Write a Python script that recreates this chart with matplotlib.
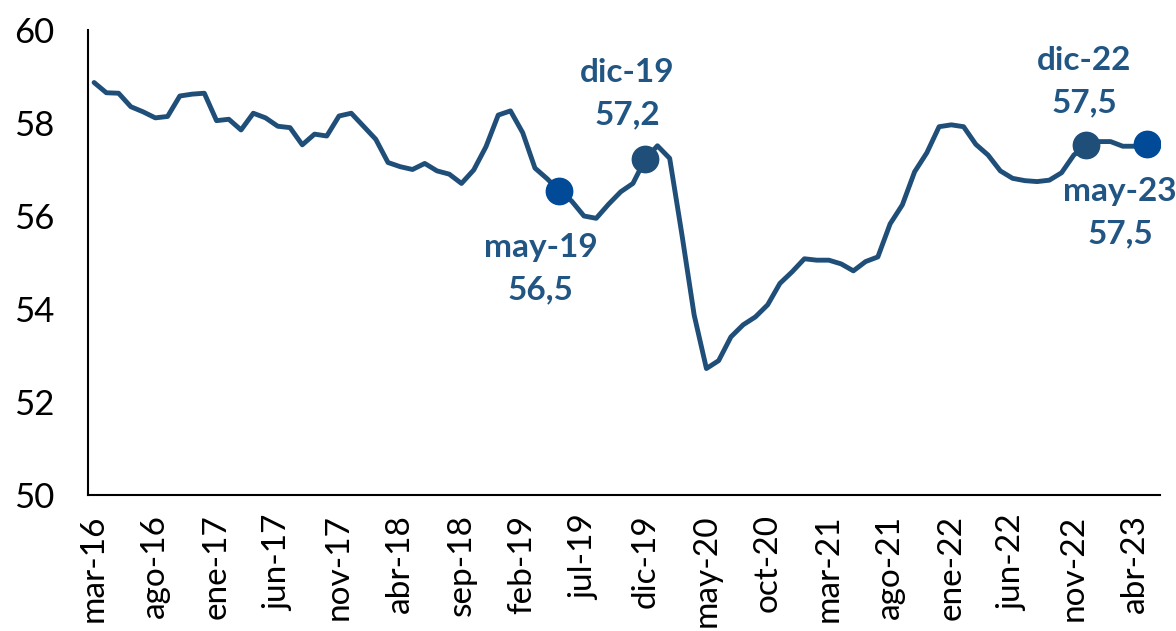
import matplotlib
matplotlib.use("Agg")
import matplotlib.pyplot as plt

plt.rcParams['font.family'] = ['Lato', 'DejaVu Sans']

month_abbr = ['ene', 'feb', 'mar', 'abr', 'may', 'jun', 'jul', 'ago', 'sep', 'oct', 'nov', 'dic']
categories = []
y, m = 2016, 2
while (y, m) <= (2023, 4):
    categories.append(f"{month_abbr[m]}-{str(y)[2:]}")
    m += 1
    if m == 12:
        m = 0
        y += 1

values = [58.87, 58.65, 58.64, 58.35, 58.24, 58.11, 58.14, 58.58, 58.62, 58.64,
          58.05, 58.08, 57.85, 58.21, 58.11, 57.93, 57.90, 57.53, 57.76, 57.72,
          58.15, 58.21, 57.93, 57.65, 57.15, 57.06, 57.00, 57.13, 56.97, 56.90,
          56.70, 56.99, 57.49, 58.17, 58.26, 57.79, 57.03, 56.80, 56.54, 56.32,
          56.00, 55.95, 56.25, 56.52, 56.70, 57.22, 57.51, 57.24, 55.60, 53.87,
          52.72, 52.89, 53.40, 53.66, 53.83, 54.09, 54.55, 54.80, 55.08, 55.05,
          55.05, 54.97, 54.82, 55.02, 55.12, 55.83, 56.24, 56.95, 57.36, 57.92,
          57.96, 57.92, 57.54, 57.31, 56.97, 56.81, 56.76, 56.74, 56.77, 56.93,
          57.31, 57.52, 57.60, 57.60, 57.50, 57.50, 57.54]

highlight_labels = ['may-19', 'dic-19', 'dic-22', 'may-23']
highlight_texts = ['56,5', '57,2', '57,5', '57,5']

line_color = '#1F4E79'
text_color = '#215583'
marker_colors = {'may-19': '#004A97', 'dic-19': '#1F4E79', 'dic-22': '#1F4E79', 'may-23': '#004A97'}
offsets = {'may-19': (-19, -78), 'dic-19': (-18, 66), 'dic-22': (-2, 64), 'may-23': (-27, -68)}

fig = plt.figure(figsize=(11.76, 6.31), dpi=100)
ax = fig.add_axes([0.0748, 0.2155, 0.9112, 0.737])

x = list(range(len(categories)))
ax.plot(x, values, color=line_color, lw=3.5, solid_joinstyle='round', solid_capstyle='round', zorder=2)

for lab, txt in zip(highlight_labels, highlight_texts):
    i = categories.index(lab)
    ax.plot(i, values[i], 'o', ms=19, color=marker_colors[lab], zorder=3)
    ax.annotate(f"{lab}\n{txt}", xy=(i, values[i]), xytext=offsets[lab],
                textcoords='offset pixels', ha='center', va='center',
                fontsize=24, fontweight='bold', color=text_color,
                linespacing=1.55, zorder=4)

ax.set_xlim(-0.5, 87)
ax.set_ylim(50, 60)
ax.set_yticks([50, 52, 54, 56, 58, 60])
ax.set_yticklabels(['50', '52', '54', '56', '58', '60'])
ticks = x[::5]
ax.set_xticks(ticks)
ax.set_xticklabels([categories[i] for i in ticks], rotation=90)

ax.tick_params(axis='y', length=0, pad=24, labelsize=25)
ax.tick_params(axis='x', length=0, pad=14, labelsize=24)
for s in ['top', 'right']:
    ax.spines[s].set_visible(False)
for s in ['left', 'bottom']:
    ax.spines[s].set_linewidth(1.5)
    ax.spines[s].set_color('black')

fig.savefig('out.png', dpi=100)
